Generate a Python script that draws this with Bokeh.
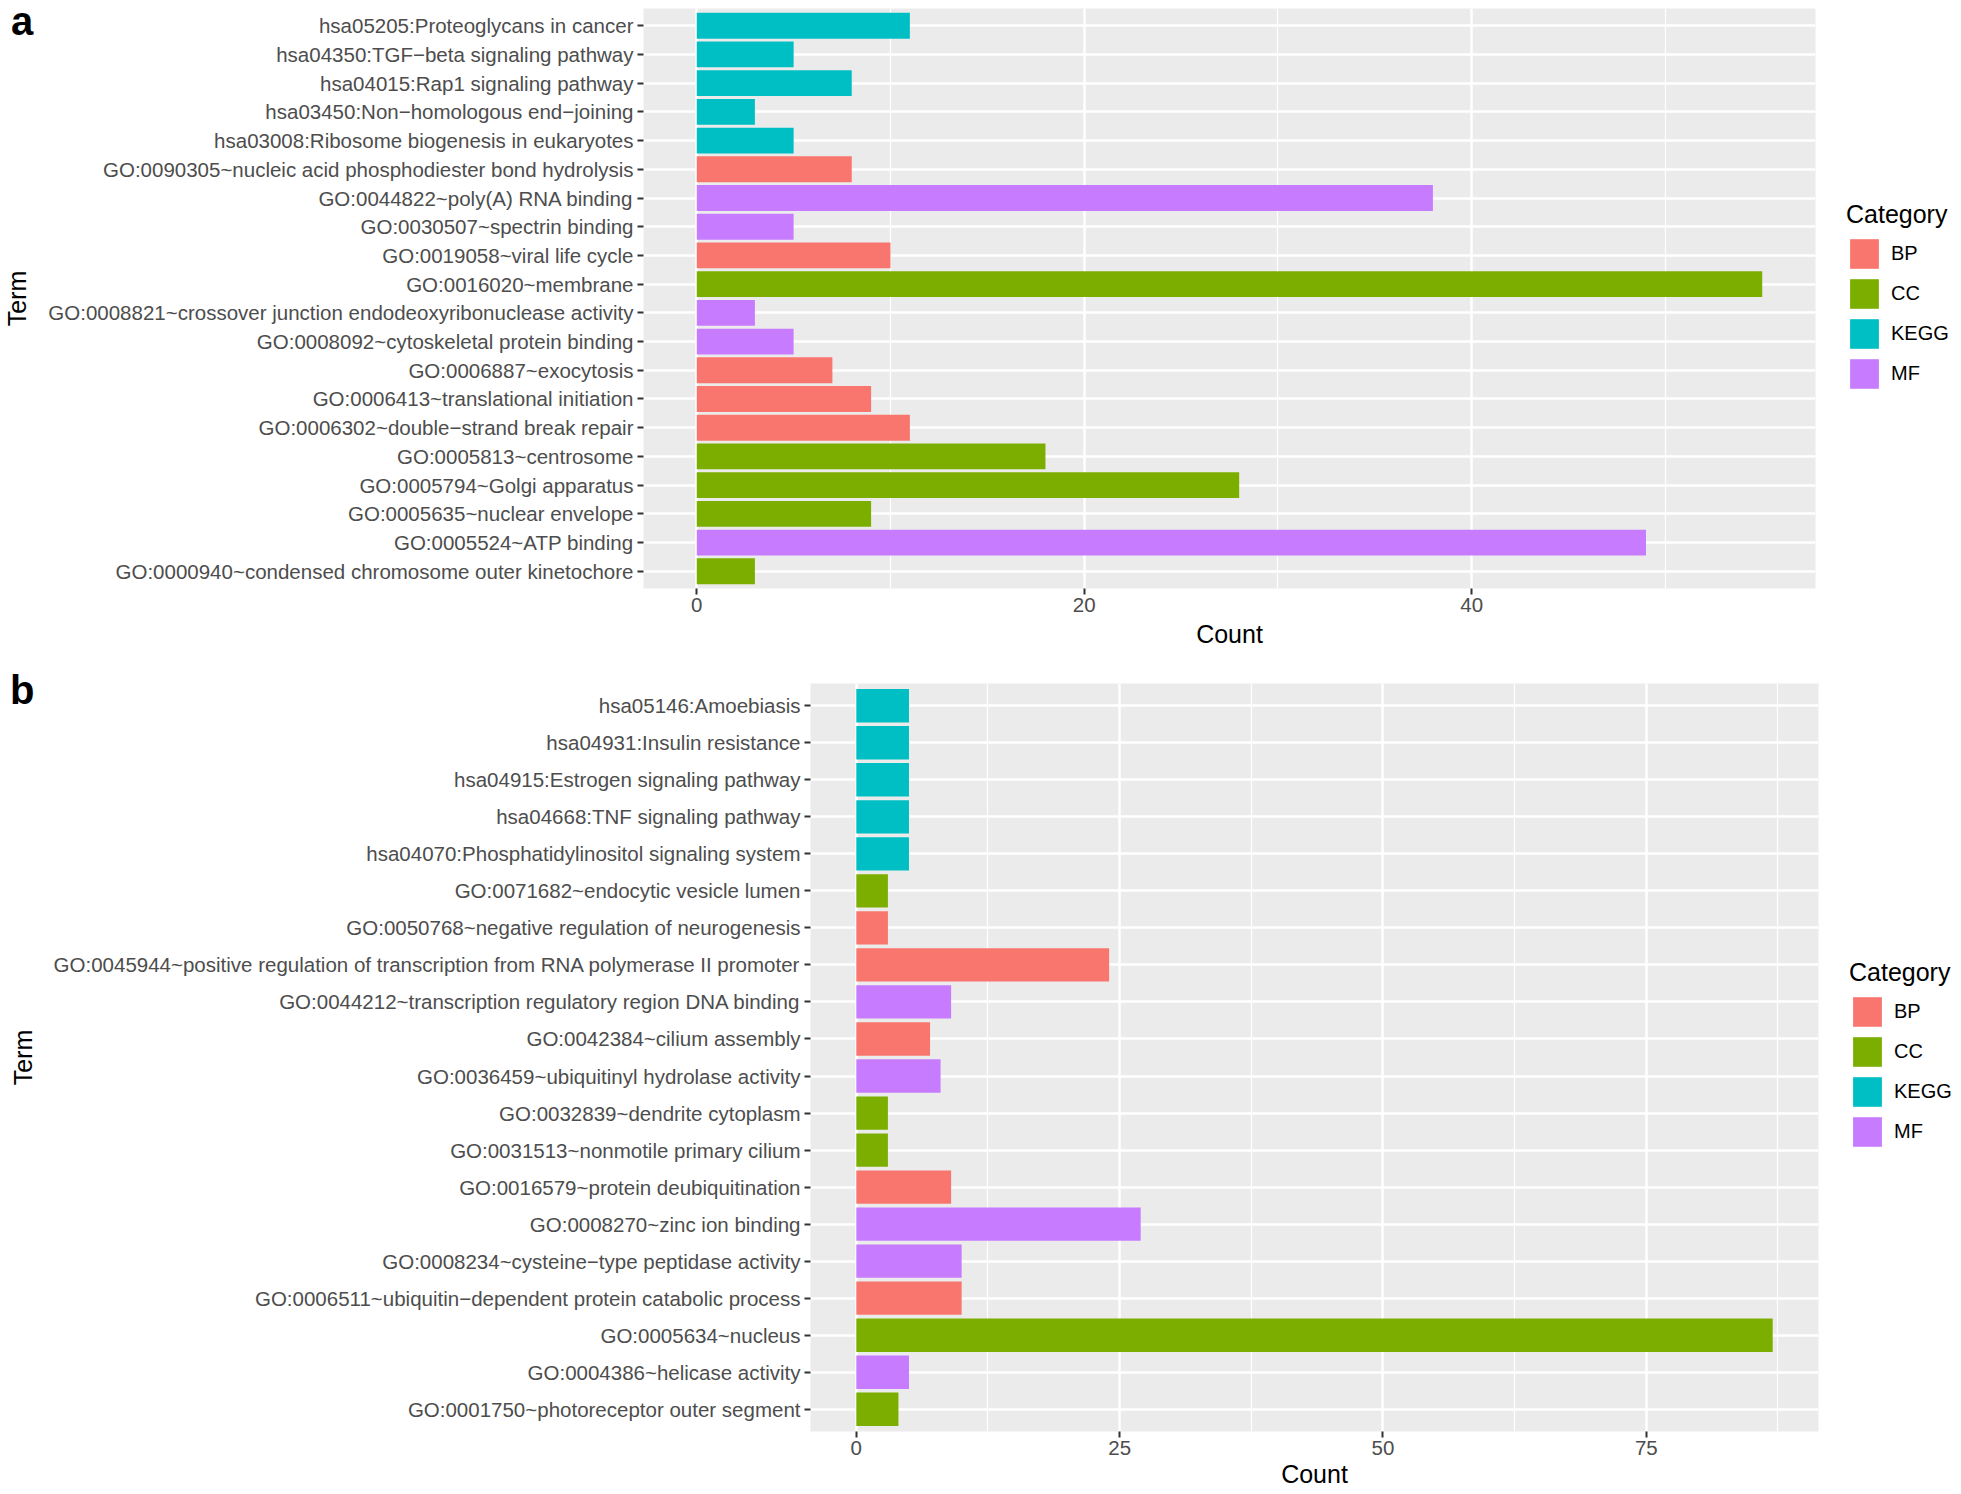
from bokeh.plotting import figure
from bokeh.models import (FactorRange, Range1d, FixedTicker, Legend, LegendItem,
                          ColumnDataSource, Div)
from bokeh.embed import file_html
from bokeh.resources import INLINE

FONT = "Liberation Sans"

categories = ["BP", "CC", "KEGG", "MF"]
cat_colors = ["#F8766D", "#7CAE00", "#00BFC4", "#C77CFF"]

# Panel a (listed top to bottom)
terms_a = [
    "hsa05205:Proteoglycans in cancer",
    "hsa04350:TGF\u2212beta signaling pathway",
    "hsa04015:Rap1 signaling pathway",
    "hsa03450:Non\u2212homologous end\u2212joining",
    "hsa03008:Ribosome biogenesis in eukaryotes",
    "GO:0090305~nucleic acid phosphodiester bond hydrolysis",
    "GO:0044822~poly(A) RNA binding",
    "GO:0030507~spectrin binding",
    "GO:0019058~viral life cycle",
    "GO:0016020~membrane",
    "GO:0008821~crossover junction endodeoxyribonuclease activity",
    "GO:0008092~cytoskeletal protein binding",
    "GO:0006887~exocytosis",
    "GO:0006413~translational initiation",
    "GO:0006302~double\u2212strand break repair",
    "GO:0005813~centrosome",
    "GO:0005794~Golgi apparatus",
    "GO:0005635~nuclear envelope",
    "GO:0005524~ATP binding",
    "GO:0000940~condensed chromosome outer kinetochore",
]
cats_a = ["KEGG", "KEGG", "KEGG", "KEGG", "KEGG", "BP", "MF", "MF", "BP", "CC",
          "MF", "MF", "BP", "BP", "BP", "CC", "CC", "CC", "MF", "CC"]
counts_a = [11, 5, 8, 3, 5, 8, 38, 5, 10, 55, 3, 5, 7, 9, 11, 18, 28, 9, 49, 3]
ticks_a = [0, 20, 40]
minor_a = [10, 30, 50]

# Panel b (listed top to bottom)
terms_b = [
    "hsa05146:Amoebiasis",
    "hsa04931:Insulin resistance",
    "hsa04915:Estrogen signaling pathway",
    "hsa04668:TNF signaling pathway",
    "hsa04070:Phosphatidylinositol signaling system",
    "GO:0071682~endocytic vesicle lumen",
    "GO:0050768~negative regulation of neurogenesis",
    "GO:0045944~positive regulation of transcription from RNA polymerase II promoter",
    "GO:0044212~transcription regulatory region DNA binding",
    "GO:0042384~cilium assembly",
    "GO:0036459~ubiquitinyl hydrolase activity",
    "GO:0032839~dendrite cytoplasm",
    "GO:0031513~nonmotile primary cilium",
    "GO:0016579~protein deubiquitination",
    "GO:0008270~zinc ion binding",
    "GO:0008234~cysteine\u2212type peptidase activity",
    "GO:0006511~ubiquitin\u2212dependent protein catabolic process",
    "GO:0005634~nucleus",
    "GO:0004386~helicase activity",
    "GO:0001750~photoreceptor outer segment",
]
cats_b = ["KEGG", "KEGG", "KEGG", "KEGG", "KEGG", "CC", "BP", "BP", "MF", "BP",
          "MF", "CC", "CC", "BP", "MF", "MF", "BP", "CC", "MF", "CC"]
counts_b = [5, 5, 5, 5, 5, 3, 3, 24, 9, 7, 8, 3, 3, 9, 27, 10, 10, 87, 5, 4]
ticks_b = [0, 25, 50, 75]
minor_b = [12.5, 37.5, 62.5, 87.5]

panel_letters = ["a", "b"]


def category_sources(terms, cats, counts):
    out = []
    for c in categories:
        idx = [i for i, k in enumerate(cats) if k == c]
        out.append(ColumnDataSource(dict(term=[terms[i] for i in idx],
                                         count=[counts[i] for i in idx])))
    return out


def make_panel(terms, sources, counts, ticks, minor, height, borders,
               xlabel_standoff):
    xmax = max(counts)
    pad = xmax * 0.05
    factors = list(reversed(terms))
    bl, br, bt, bb = borders
    p = figure(width=1961, height=height,
               y_range=FactorRange(factors=factors, range_padding=0.1,
                                   range_padding_units="absolute"),
               x_range=Range1d(-pad, xmax + pad),
               output_backend="svg", toolbar_location=None,
               min_border_left=bl, min_border_right=br,
               min_border_top=bt, min_border_bottom=bb)
    p.background_fill_color = "#EBEBEB"
    p.border_fill_color = "white"
    p.outline_line_color = None

    for src, col in zip(sources, cat_colors):
        p.hbar(y="term", left=0, right="count", height=0.9, source=src,
               fill_color=col, line_color=None)

    ticker = FixedTicker(ticks=ticks, minor_ticks=minor)
    p.xaxis.ticker = ticker
    p.xgrid.ticker = ticker
    p.xgrid.grid_line_color = "white"
    p.xgrid.grid_line_width = 2.5
    p.xgrid.minor_grid_line_color = "white"
    p.xgrid.minor_grid_line_width = 1.2
    p.ygrid.grid_line_color = "white"
    p.ygrid.grid_line_width = 2.5

    for ax in (p.xaxis[0], p.yaxis[0]):
        ax.axis_line_color = None
        ax.major_tick_line_color = "#333333"
        ax.major_tick_line_width = 2
        ax.major_tick_out = 6
        ax.major_tick_in = 0
        ax.minor_tick_line_color = None
        ax.major_label_text_font = FONT
        ax.major_label_text_font_size = "20.5px"
        ax.major_label_text_color = "#4D4D4D"
        ax.axis_label_text_font = FONT
        ax.axis_label_text_font_size = "25px"
        ax.axis_label_text_font_style = "normal"
        ax.axis_label_text_color = "black"
    p.xaxis.axis_label = "Count"
    p.yaxis.axis_label = "Term"
    p.xaxis.major_label_standoff = 3
    p.xaxis.axis_label_standoff = xlabel_standoff
    p.yaxis.major_label_standoff = 4
    p.yaxis.axis_label_standoff = 14
    return p


def make_legend(terms, sources, left, top):
    # small legend-only figure; the bars lie outside its x range
    lf = figure(width=114, height=200,
                y_range=FactorRange(factors=list(reversed(terms))),
                x_range=Range1d(-20, -10),
                x_axis_location=None, y_axis_location=None,
                output_backend="svg", toolbar_location=None,
                min_border_left=0, min_border_right=0,
                min_border_top=0, min_border_bottom=0,
                styles={"position": "absolute", "left": f"{left}px",
                        "top": f"{top}px"})
    lf.grid.visible = False
    lf.outline_line_color = None
    lf.background_fill_color = "white"
    lf.border_fill_color = "white"
    items = []
    for c, src, col in zip(categories, sources, cat_colors):
        r = lf.hbar(y="term", left=0, right="count", height=0.9, source=src,
                    fill_color=col, line_color=None)
        items.append(LegendItem(label=c, renderers=[r]))
    legend = Legend(items=items, location="top_left", title="Category",
                    title_text_font=FONT, title_text_font_size="25px",
                    title_text_font_style="normal", title_text_color="black",
                    title_standoff=6,
                    label_text_font=FONT, label_text_font_size="20px",
                    label_text_color="black",
                    glyph_width=36, glyph_height=37, label_height=37,
                    spacing=3, label_standoff=9, padding=0, margin=0,
                    border_line_color=None, background_fill_alpha=0)
    lf.add_layout(legend)
    return lf


def make_letter(text, left, top):
    return Div(text=text, width=30, height=30,
               styles={"position": "absolute", "left": f"{left}px",
                       "top": f"{top}px", "font-family": FONT,
                       "font-size": "40px", "font-weight": "bold",
                       "line-height": "30px", "color": "black"})


src_a = category_sources(terms_a, cats_a, counts_a)
src_b = category_sources(terms_b, cats_b, counts_b)

pa = make_panel(terms_a, src_a, counts_a, ticks_a, minor_a, 660,
                (643, 146, 8, 72), 5)
pb = make_panel(terms_b, src_b, counts_b, ticks_b, minor_b, 834,
                (810, 143, 23, 63), 2)
lga = make_legend(terms_a, src_a, 1846, 200)
lgb = make_legend(terms_b, src_b, 1849, 958)
la = make_letter(panel_letters[0], 6, 1)
lb = make_letter(panel_letters[1], 5, 670)

open("out.html", "w").write(file_html([pa, pb, lga, lgb, la, lb], INLINE))
